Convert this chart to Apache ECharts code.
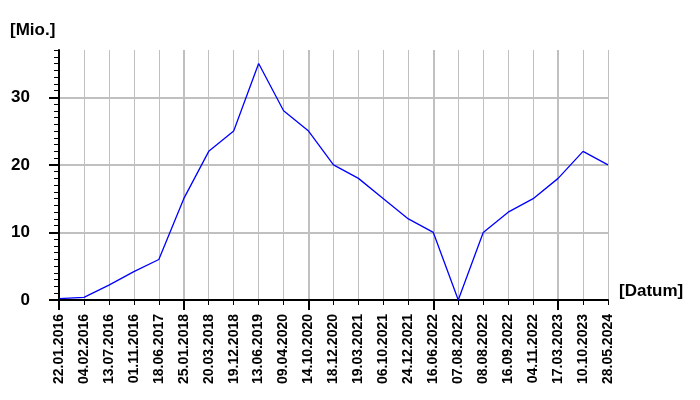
<!DOCTYPE html>
<html>
<head>
<meta charset="utf-8">
<script src="https://cdn.jsdelivr.net/npm/echarts@6/dist/echarts.min.js"></script>
<style>html,body{margin:0;padding:0;background:#fff;}#c{width:700px;height:400px;}</style>
</head>
<body>
<div id="c"></div>
<script>
const dates = ['22.01.2016','04.02.2016','13.07.2016','01.11.2016','18.06.2017','25.01.2018','20.03.2018','19.12.2018','13.06.2019','09.04.2020','14.10.2020','18.12.2020','19.03.2021','06.10.2021','24.12.2021','16.06.2022','07.08.2022','08.08.2022','16.09.2022','04.11.2022','17.03.2023','10.10.2023','28.05.2024'];
const values = [0.2, 0.4, 2.2, 4.2, 6, 15, 22, 25, 35, 28, 25, 20, 18, 15, 12, 10, 0, 10, 13, 15, 18, 22, 20];
const yTicks = [0, 10, 20, 30];
const yMax = 37;

const font = "'Liberation Sans', Arial, sans-serif";
const chart = echarts.init(document.getElementById('c'), null, {renderer: 'canvas'});
chart.setOption({
  animation: false,
  backgroundColor: '#fff',
  grid: {left: 59, right: 92, top: 50, bottom: 100, containLabel: false},
  graphic: [
    {type: 'text', left: 10, top: 22, style: {text: '[Mio.]', font: 'bold 17px ' + font, fill: '#000'}},
    {type: 'text', left: 619, top: 283, style: {text: '[Datum]', font: 'bold 17px ' + font, fill: '#000'}}
  ],
  xAxis: [
    {
      type: 'category', data: dates, boundaryGap: false, position: 'bottom',
      axisLine: {show: true, lineStyle: {color: '#000', width: 2}},
      axisTick: {show: true, interval: 0, length: 5, lineStyle: {color: '#000', width: 1}},
      splitLine: {show: true, interval: 0, lineStyle: {color: '#c0c0c0', width: 1}},
      axisLabel: {show: true, interval: 0, rotate: 90, margin: 14, color: '#000', fontFamily: font, fontWeight: 'bold', fontSize: 14}
    },
    {
      type: 'category', data: dates, boundaryGap: false, position: 'bottom', offset: 0,
      axisLine: {show: false},
      axisTick: {show: true, interval: 4, length: 10, lineStyle: {color: '#000', width: 2}},
      splitLine: {show: true, interval: 4, lineStyle: {color: '#c0c0c0', width: 2}},
      axisLabel: {show: false}
    }
  ],
  yAxis: [
    {
      type: 'value', min: 0, max: yMax, interval: 1, position: 'left',
      axisLine: {show: true, lineStyle: {color: '#000', width: 2}},
      axisTick: {show: true, length: 5, lineStyle: {color: '#000', width: 1}},
      splitLine: {show: false},
      axisLabel: {show: false}
    },
    {
      type: 'value', min: 0, max: yMax, interval: 10, position: 'left', offset: 0,
      axisLine: {show: false},
      axisTick: {show: true, length: 10, customValues: yTicks, lineStyle: {color: '#000', width: 2}},
      splitLine: {show: true, lineStyle: {color: '#c0c0c0', width: 2}},
      axisLabel: {show: true, customValues: yTicks, margin: 29, color: '#000', fontFamily: font, fontWeight: 'bold', fontSize: 17}
    }
  ],
  series: [{
    type: 'line', data: values, xAxisIndex: 0, yAxisIndex: 0,
    showSymbol: false, symbol: 'none',
    lineStyle: {color: '#0000ff', width: 1.3},
    z: 5
  }]
});
</script>
</body>
</html>
